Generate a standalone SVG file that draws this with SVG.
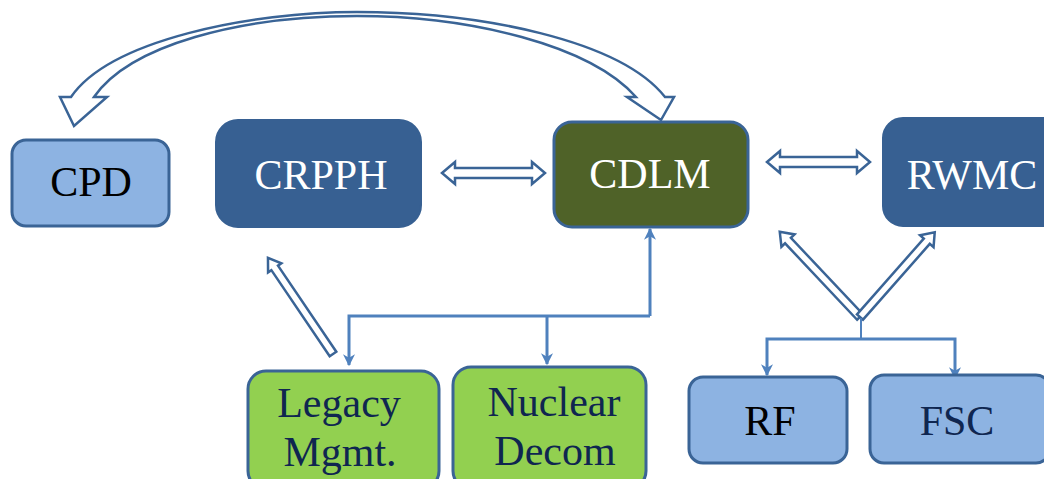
<svg xmlns="http://www.w3.org/2000/svg" width="1044" height="479" viewBox="0 0 1044 479">
<defs>
<style>
.lbl{font-family:"Liberation Serif","Times New Roman",serif;font-size:42px;text-anchor:middle}
.w{fill:#ffffff}.k{fill:#000000}.n{fill:#0F2650}
.light{fill:#8DB3E2;stroke:#3A6496;stroke-width:3}
.dark{fill:#376092;stroke:#376092;stroke-width:2}
.olive{fill:#4F6228;stroke:#3A6496;stroke-width:3}
.green{fill:#92D050;stroke:#3A6496;stroke-width:3}
.hollow{fill:#ffffff;stroke:#3A6496;stroke-width:2.5;stroke-linejoin:miter}
.thin{fill:none;stroke:#4F81BD;stroke-width:3}
</style>
<marker id="ah" viewBox="0 0 10 10" refX="9" refY="5" markerWidth="4" markerHeight="4" orient="auto" markerUnits="strokeWidth">
<path d="M0,0 L10,5 L0,10 L3,5 Z" fill="#4F81BD"/>
</marker>
</defs>

<g id="connectors">
<path class="hollow" d="M74,126 L60,97 L71,97 C110,40 250,12 357,12 C480,12 620,40 665,97 L674,97 L661,120 L627,97 L636,97 C590,45 470,16 357,16 C240,16 130,45 94,97 L107,97 Z"/>
<polygon class="hollow" transform="translate(442,173)" points="0,0 13,-11 13,-5 90,-5 90,-11 103,0 90,11 90,5 13,5 13,11"/>
<polygon class="hollow" transform="translate(767,162)" points="0,0 13,-11 13,-5 90,-5 90,-11 103,0 90,11 90,5 13,5 13,11"/>
<polygon class="hollow" transform="translate(333,354) rotate(-124.1)" points="0,-4 104,-4 104,-8 116,0 104,8 104,4 0,4"/>
<polygon class="hollow" transform="translate(860,317) rotate(-133.3)" points="0,-4 105,-4 105,-9 117,0 105,9 105,4 0,4"/>
<polygon class="hollow" transform="translate(860,317) rotate(-48.6)" points="0,-4 101,-4 101,-9 113,0 101,9 101,4 0,4"/>
<path class="thin" d="M650,316 L650,229" marker-end="url(#ah)"/>
<path class="thin" d="M650,316 L349,316 L349,365" marker-end="url(#ah)"/>
<path class="thin" d="M547,316 L547,364" marker-end="url(#ah)"/>
<path class="thin" style="stroke-width:2" d="M861,318 L861,339"/>
<path class="thin" d="M861,339 L767,339 L767,375" marker-end="url(#ah)"/>
<path class="thin" d="M861,339 L955,339 L955,378" marker-end="url(#ah)"/>
</g>

<g id="cpd"><rect class="light" x="12" y="140" width="157" height="86" rx="14"/><text class="lbl k" x="91" y="196">CPD</text></g>
<g id="crpph"><rect class="dark" x="216" y="120" width="205" height="107" rx="22"/><text class="lbl w" x="321" y="189">CRPPH</text></g>
<g id="cdlm"><rect class="olive" x="554" y="122" width="194" height="105" rx="18"/><text class="lbl w" x="650" y="188">CDLM</text></g>
<g id="rwmc"><rect class="dark" x="883" y="118" width="180" height="108" rx="20"/><text class="lbl w" x="972" y="189">RWMC</text></g>
<g id="legacy"><rect class="green" x="248" y="371" width="191" height="118" rx="18"/><text class="lbl n" x="339" y="417">Legacy</text><text class="lbl n" x="340" y="466">Mgmt.</text></g>
<g id="nuclear"><rect class="green" x="453" y="367" width="193" height="122" rx="18"/><text class="lbl n" x="554" y="416">Nuclear</text><text class="lbl n" x="555" y="465">Decom</text></g>
<g id="rf"><rect class="light" x="689" y="377" width="158" height="86" rx="14"/><text class="lbl k" x="770" y="435">RF</text></g>
<g id="fsc"><rect class="light" x="870" y="375" width="180" height="88" rx="14"/><text class="lbl n" x="957" y="435">FSC</text></g>
</svg>
